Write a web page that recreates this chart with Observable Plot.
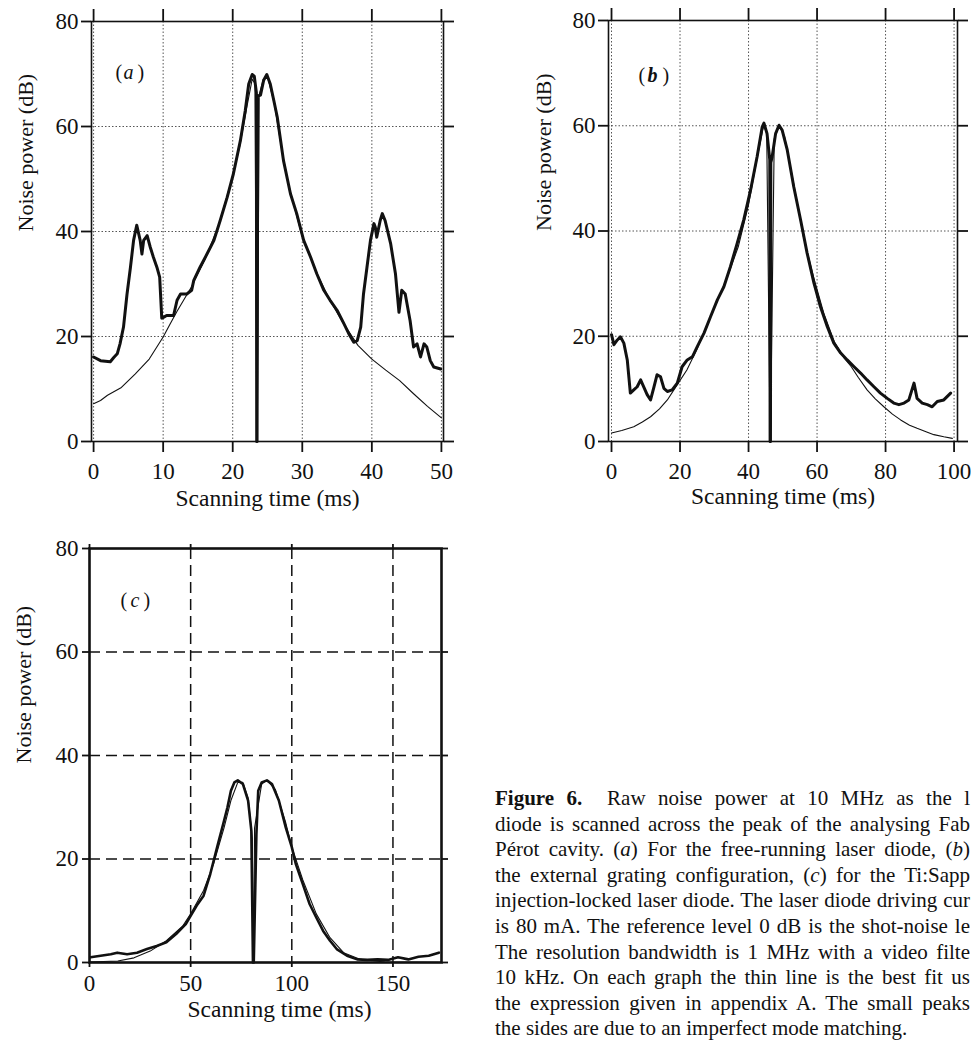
<!DOCTYPE html>
<html><head><meta charset="utf-8">
<script src="https://cdn.jsdelivr.net/npm/d3@7"></script>
<script src="https://cdn.jsdelivr.net/npm/@observablehq/plot@0.6"></script>
<style>
html,body{margin:0;padding:0;background:#fff;}
#page{position:relative;width:972px;height:1041px;overflow:hidden;background:#fff;}
.panel{position:absolute;}
#caption{position:absolute;left:495px;top:786px;width:475px;font-family:"Liberation Serif","Times New Roman",Times,serif;font-size:21px;line-height:25.6px;color:#111;}
#caption div{text-align:justify;text-align-last:justify;white-space:normal;}
#caption div.last{text-align-last:left;}
</style></head><body>
<div id="page">
  <div class="panel" id="pa" style="left:0;top:0"></div>
  <div class="panel" id="pb" style="left:500px;top:0"></div>
  <div class="panel" id="pc" style="left:0;top:520px"></div>
  <div id="caption">
    <div><b>Figure 6.</b>&nbsp; Raw noise power at 10 MHz as the l</div>
    <div>diode is scanned across the peak of the analysing Fab</div>
    <div>Pérot cavity. (<i>a</i>) For the free-running laser diode, (<i>b</i>)</div>
    <div>the external grating configuration, (<i>c</i>) for the Ti:Sapp</div>
    <div>injection-locked laser diode. The laser diode driving cur</div>
    <div>is 80 mA. The reference level 0 dB is the shot-noise le</div>
    <div>The resolution bandwidth is 1 MHz with a video filte</div>
    <div>10 kHz. On each graph the thin line is the best fit us</div>
    <div>the expression given in appendix A. The small peaks</div>
    <div class="last">the sides are due to an imperfect mode matching.</div>
  </div>
</div>
<script>
// ---------- data ----------
const powerTicks = [0, 20, 40, 60, 80];
const aTimeTicks = [0, 10, 20, 30, 40, 50];
const bTimeTicks = [0, 20, 40, 60, 80, 100];
const cTimeTicks = [0, 50, 100, 150];
const cGridTime = [50, 100, 150];
const cGridPower = [20, 40, 60];

// (a) free-running laser diode: measured trace
const aTime = [0,1,2.4,2.9,3.4,3.8,4.3,4.8,5.3,5.75,6.2,6.7,6.95,7.2,7.7,8.15,8.6,9.1,9.5,9.8,10.1,10.5,11.5,12,12.5,13.4,14.1,14.4,15.3,16.3,17.3,18.2,19.2,20.1,21.1,21.8,22.3,22.8,23.1,23.4,23.45,23.5,23.6,24,24.45,24.9,25.4,25.9,26.4,27.3,28.3,29.2,30.2,31.2,32.1,33.1,34,35,36,36.7,37.4,37.9,38.4,38.8,39.3,39.8,40.3,40.5,40.7,41.2,41.5,41.9,42.7,43.4,43.9,44.3,44.8,45.5,46,46.5,47,47.5,47.9,48.4,48.9,49.9];
const aPower = [16.1,15.4,15.2,16,16.7,18.6,21.8,28,33.2,38.3,41.2,38.3,35.7,38.3,39.2,37,35.1,33.2,31.3,23.5,23.7,24,24,26.9,28.1,28.1,28.8,30.7,33.2,35.7,38.3,42.1,46.5,51,57.3,63,68.1,69.9,69.6,66.5,0,0,65.8,66,68.8,69.9,68.1,65,61.8,53.5,47.2,43.4,38.3,35.1,31.9,28.8,26.9,25,22.4,20.5,18.9,19.2,21.8,28.1,33.2,38.3,41.5,40.8,38.9,42.1,43.4,42.1,37.7,31.9,24.6,28.8,28.1,23,18,18.6,16.1,18.6,18,15.4,14.2,13.8];
// (a) best fit (thin line)
const aFitTime = [0,1,2,4,6,8,10,11,12,14,16,18,20,21,22,22.8,23.2,23.47,23.53,23.8,24.4,25,26,27,28,30,32,34,36,38,40,42,44,46,48,50];
const aFitPower = [7.2,7.8,8.8,10.3,12.9,15.7,19.9,22.4,24.8,29.3,34.6,41.3,50.5,56.2,63.5,69,68.2,0,0,66,69,69.5,64.2,56,49,39,32.3,26.8,22.3,18.3,15.7,13.6,11.6,9.1,6.7,4.5];

// (b) external grating configuration: measured trace
const bTime = [0,0.7,1.7,2.6,3.6,4.6,5.5,6.5,7.5,8.5,9.4,10.4,11.4,12.4,13.3,14.3,15.3,16.3,17.7,19.2,20.6,22.1,23.6,25,27,28.9,30.9,32.8,34.7,36.7,38.6,40.6,42.5,44,44.5,45.4,46.2,46.3,46.4,46.5,46.9,47.9,48.9,49.8,51.3,53.2,55.2,57.1,59.1,61,63,64.9,66.9,68.8,70.8,72.7,74.6,76.6,78.5,80.5,82.4,83.9,85.4,86.8,88.3,89.2,90.7,92.2,93.6,95.1,97,99];
const bPower = [20.3,18.4,19.3,19.9,18.7,15.5,9.2,9.8,10.4,11.7,10.4,8.9,7.9,10.4,12.7,12.3,10.1,9.5,9.8,11.1,14.2,15.5,16.1,18,20.6,23.7,26.9,29.4,33.2,37.7,42.1,47.8,54.1,59.8,60.5,58.5,53.5,0,0,53,54.1,58.5,60.1,59.2,55.4,48.4,42.1,35.8,30.1,25.6,21.8,18.7,16.8,15.5,14.2,13,11.7,10.4,9.2,8.2,7.3,7,7.3,7.9,11.1,8.2,7.3,7,6.6,7.6,7.9,9.2];
// (b) best fit (thin line)
const bFitTime = [0,3,6.5,9,11.4,14,16.3,19.2,22,25,28,31,34,37,40,42.5,44.3,45.3,46.3,46.4,47.5,48.9,50.5,53,56,59,62,65,68,70,72,74.6,77,79.5,82,84.4,87,89.2,92,94.1,97,99.5];
const bFitPower = [1.6,2.1,2.8,3.7,4.7,6.2,7.9,10.8,13.6,17.6,22.3,26.9,31.6,37,45,53.8,59.8,59,0,0,57.5,60,58,49.6,39,31.2,24.3,19,15.8,14.2,12.2,9.8,8.1,6.6,5.2,4.1,3.1,2.5,1.8,1.3,0.9,0.6];

// (c) Ti:Sapphire injection-locked laser diode: measured trace
const cTime = [0.5,5.5,10.5,13.7,18.6,23.5,28.4,33.2,38,42.8,47.6,50,53,56.4,59.7,63.1,66.5,68.2,69.9,71.6,73.3,75.8,78.4,80,80.8,81.2,82.5,83.4,85.1,87.7,90.2,93.6,97,100,102,105.4,108.8,112.1,115.5,118.9,122.2,127.3,132.3,137.4,142.4,147.5,152.5,157.6,162.6,167.7,172.7];
const cPower = [1,1.3,1.6,1.9,1.6,1.9,2.6,3.2,3.9,5.5,7.4,9,11,12.9,17.1,22.3,27.4,30,33.2,34.8,35.2,34.5,31.3,25.5,0,0,24.8,33.2,34.8,35.2,34.5,31.3,26.1,22.3,19,15.2,11.3,8.7,6.1,4.2,2.6,1.3,0.6,0.5,0.6,0.5,1,0.6,1.1,1.3,1.9];
// (c) best fit (thin line)
const cFitTime = [0,14,22,30,38,46,50,56.4,61.3,66.5,69.9,73.3,75.8,78.4,80.5,80.9,81.1,81.6,85.1,87.7,91.9,97,100,105.4,112.1,118.9,125.6,134,146,174];
const cFitPower = [0.1,0.3,0.9,2.2,4.2,7,9.4,13.9,19,26,31.3,34.8,34.8,31.8,24,0,0,26,34.5,35.2,33.4,27,22.3,16,9.4,4.8,1.9,0.6,0.1,0];

// ---------- drawing ----------
const FONT = '"Liberation Serif","Times New Roman",Times,serif';
const INK = "#111";
const rows = (xs, ys) => xs.map((t, i) => ({t, p: ys[i]}));

function letter(parts) {
  return parts.map(([s, dx, dy, style, weight]) =>
    Plot.text([s], {text: d => d, frameAnchor: "top-left", dx, dy, textAnchor: "start", lineAnchor: "middle",
      fontSize: 20, fontStyle: style || "normal", fontWeight: weight || "normal", fill: INK}));
}

function panel({el, width, height, margins, xDomain, xTicks, xGrid, yGrid, dotted, thick, fit, letterParts,
                yLabelDx, yLabelDy, xLabelDx, xLabelDy, tick}) {
  const [mt, mr, mb, ml] = margins;
  const gridStyle = dotted
    ? {stroke: "#555", strokeOpacity: 1, strokeWidth: 1, strokeDasharray: "1.5,2"}
    : {stroke: INK, strokeOpacity: 1, strokeWidth: 1.5, strokeDasharray: "11,6"};
  const chart = Plot.plot({
    width, height,
    marginTop: mt, marginRight: mr, marginBottom: mb, marginLeft: ml,
    style: {fontFamily: FONT, fontSize: "23px", color: INK, background: "transparent", overflow: "visible"},
    x: {domain: xDomain},
    y: {domain: [0, 80]},
    marks: [
      Plot.gridX(xGrid, gridStyle),
      Plot.gridY(yGrid, gridStyle),
      Plot.frame({stroke: INK, strokeWidth: dotted ? 1.6 : 2.6}),
      Plot.axisX(xTicks, {anchor: "bottom", tickSize: tick.bottom, tickPadding: tick.bottomPad, strokeWidth: 1.8, fontSize: 23, label: null, fill: INK}),
      Plot.axisX(xTicks, {anchor: "top", tickSize: tick.top, tickFormat: () => "", strokeWidth: 1.8, label: null}),
      Plot.axisY(powerTicks, {anchor: "left", tickSize: tick.left, tickPadding: tick.leftPad, strokeWidth: 1.8, fontSize: 23, label: null, fill: INK}),
      Plot.axisY(powerTicks, {anchor: "right", tickSize: tick.right, tickFormat: () => "", strokeWidth: 1.8, label: null}),
      Plot.line(fit, {x: "t", y: "p", stroke: INK, strokeWidth: 1.1}),
      Plot.line(thick, {x: "t", y: "p", stroke: INK, strokeWidth: dotted ? 3 : 2.6, strokeLinejoin: "round"}),
      Plot.text(["Noise power (dB)"], {text: d => d, frameAnchor: "left", rotate: -90, lineAnchor: "top",
        dx: yLabelDx, dy: yLabelDy, fontSize: 22, fill: INK}),
      Plot.text(["Scanning time (ms)"], {text: d => d, frameAnchor: "bottom", lineAnchor: "bottom",
        dx: xLabelDx, dy: xLabelDy, fontSize: 23.5, fill: INK}),
      ...letter(letterParts)
    ]
  });
  document.getElementById(el).appendChild(chart);
}

panel({
  el: "pa", width: 480, height: 520, margins: [21, 37, 79, 91],
  xDomain: [-0.3, 50.3], xTicks: aTimeTicks, xGrid: aTimeTicks, yGrid: powerTicks, dotted: true,
  thick: rows(aTime, aPower), fit: rows(aFitTime, aFitPower),
  letterParts: [["(", 24, 51], ["a", 32, 51, "italic"], [")", 46, 51]],
  yLabelDx: -74, yLabelDy: 0, xLabelDx: 0, xLabelDy: 64,
  tick: {bottom: 11, bottomPad: 10, top: 13, left: 10, leftPad: 3, right: 10}
});

panel({
  el: "pb", width: 472, height: 520, margins: [20, 15, 79, 108],
  xDomain: [-0.88, 101], xTicks: bTimeTicks, xGrid: bTimeTicks, yGrid: powerTicks, dotted: true,
  thick: rows(bTime, bPower), fit: rows(bFitTime, bFitPower),
  letterParts: [["(", 30, 55], ["b", 39, 55, "italic", "bold"], [")", 54, 55]],
  yLabelDx: -73, yLabelDy: 0, xLabelDx: 0, xLabelDy: 62,
  tick: {bottom: 11, bottomPad: 10, top: 13, left: 10, leftPad: 3, right: 10}
});

panel({
  el: "pc", width: 480, height: 521, margins: [28, 39, 79, 89],
  xDomain: [0, 174], xTicks: cTimeTicks, xGrid: cGridTime, yGrid: cGridPower, dotted: false,
  thick: rows(cTime, cPower), fit: rows(cFitTime, cFitPower),
  letterParts: [["(", 31, 52], ["c", 41, 52, "italic"], [")", 54, 52]],
  yLabelDx: -74, yLabelDy: 8, xLabelDx: 14, xLabelDy: 54,
  tick: {bottom: 5, bottomPad: 7, top: 5, left: 7, leftPad: 4, right: 6}
});
</script>
</body></html>
